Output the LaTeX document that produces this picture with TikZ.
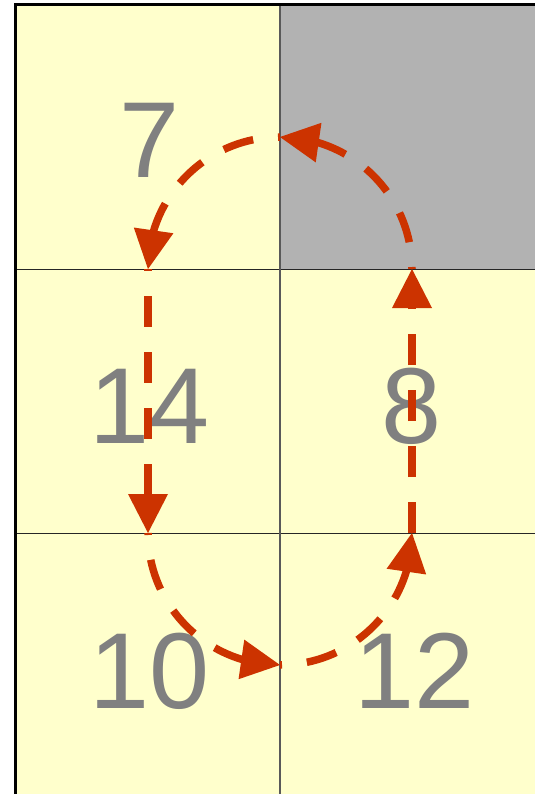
\documentclass[tikz,border=0pt]{standalone}
\usepackage{fontspec}
\setmainfont{Liberation Sans}
\usetikzlibrary{arrows.meta,bending}
\definecolor{cellyellow}{HTML}{FFFFCC}
\definecolor{cellgray}{HTML}{B2B2B2}
\definecolor{numgray}{HTML}{808080}
\definecolor{arrowred}{HTML}{CC3300}
\tikzset{
  cellfill/.style={fill=cellyellow,draw=none},
  blockfill/.style={fill=cellgray,draw=none},
  gridline/.style={draw=black!85,line width=1pt},
  vgridline/.style={draw=black!65,line width=1.6pt},
  border/.style={draw=black,line width=3pt},
  num/.style={inner sep=0pt,text=numgray,font=\fontsize{108}{108}\selectfont},
  flow/.style={draw=arrowred,line width=7.5pt,dash pattern=on 31pt off 25pt,dash phase=29pt,
    -{Triangle[length=39pt,width=40pt,line width=0pt,flex]}},
}
\begin{document}
\begin{tikzpicture}[x=1pt,y=1pt]
\useasboundingbox (0,0) rectangle (535,-794);
% cells
\fill[cellyellow] (15.5,-4.5) rectangle (535,-794);
\fill[cellgray] (280,-4.5) rectangle (535,-269);
% grid
\draw[gridline] (15.5,-269) -- (535,-269);
\draw[gridline] (15.5,-533.5) -- (535,-533.5);
\draw[vgridline] (280,-4.5) -- (280,-794);
\draw[border] (15.5,-794) -- (15.5,-4.5) -- (535,-4.5);
% numbers
\node[num] (n7) at (150,-140) {7};
\node[num] (n14) at (150,-406) {14};
\node[num] (n8) at (412,-406) {8};
\node[num] (n10) at (150,-671) {10};
\node[num] (n12) at (415,-671) {12};
% path points
\coordinate (ptop) at (280,-137);
\coordinate (pl1) at (148,-269);
\coordinate (pl2) at (148,-533);
\coordinate (pbot) at (280,-665);
\coordinate (pr2) at (412,-533);
\coordinate (pr1) at (412,-269);
% arrows
\draw[flow] (ptop) arc[start angle=90,end angle=180,radius=132];
\draw[flow] (pl1) -- (pl2);
\draw[flow] (pl2) arc[start angle=180,end angle=270,radius=132];
\draw[flow] (pbot) arc[start angle=270,end angle=360,radius=132];
\draw[flow,dash phase=0pt] (pr2) -- (pr1);
\draw[flow] (pr1) arc[start angle=0,end angle=90,radius=132];
\end{tikzpicture}
\end{document}
